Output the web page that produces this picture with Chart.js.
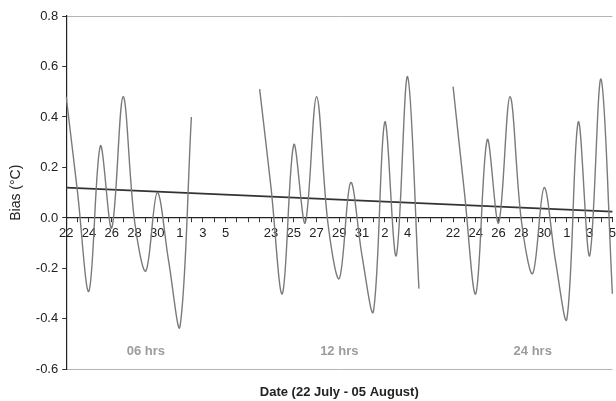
<!DOCTYPE html>
<html>
<head>
<meta charset="utf-8">
<script src="https://cdn.jsdelivr.net/npm/chart.js@4/dist/chart.umd.min.js"></script>
<style>
  html, body { margin: 0; padding: 0; background: #fff; }
  #wrap { width: 616px; height: 401px; overflow: hidden; }
  #box { width: 620px; height: 401px; }
</style>
</head>
<body>
<div id="wrap"><div id="box"><canvas id="chart"></canvas></div></div>
<script>
// days 22 July - 05 August, repeated for each forecast range
const dates = ["22", "23", "24", "25", "26", "27", "28", "29", "30", "31", "1", "2", "3", "4", "5"];
const gap = 2; // empty categories between the blocks
const segmentNames = ["06 hrs", "12 hrs", "24 hrs"];

// bias per day
const hrs06 = [0.48, 0.10, -0.29, 0.285, -0.04, 0.48, -0.01, -0.21, 0.10, -0.17, -0.43, 0.40];
const hrs12 = [0.51, 0.12, -0.30, 0.29, -0.02, 0.48, -0.02, -0.24, 0.14, -0.15, -0.37, 0.38, -0.15, 0.56, -0.28];
const hrs24 = [0.52, 0.10, -0.30, 0.31, -0.02, 0.48, -0.01, -0.22, 0.12, -0.17, -0.40, 0.38, -0.15, 0.55, -0.30];
const trendEnds = [0.12, 0.025];

const yTicks = [-0.6, -0.4, -0.2, 0.0, 0.2, 0.4, 0.6, 0.8];

const blank = Array(gap).fill("");
const labels = [...dates, ...blank, ...dates, ...blank, ...dates];
const step = dates.length + gap;

function pad(vals, start) {
  return labels.map((_, i) => (i >= start && i < start + vals.length) ? vals[i - start] : null);
}
const trend = labels.map((_, i) => i === 0 ? trendEnds[0] : (i === labels.length - 1 ? trendEnds[1] : null));

const FONT = "'Liberation Sans', Arial, sans-serif";
const lineStyle = { borderColor: "#7a7a7a", borderWidth: 1.4, pointRadius: 0, tension: 0.35, spanGaps: false, fill: false };

const segmentText = {
  id: "segmentText",
  afterDatasetsDraw(chart) {
    const { ctx, scales: { x, y } } = chart;
    ctx.save();
    ctx.font = "bold 13px " + FONT;
    ctx.fillStyle = "#9c9c9c";
    ctx.textAlign = "center";
    ctx.textBaseline = "middle";
    segmentNames.forEach((name, k) => {
      const px = x.getPixelForValue(k * step + (dates.length - 1) / 2);
      ctx.fillText(name, px, y.getPixelForValue(-0.53));
    });
    ctx.restore();
  }
};

new Chart(document.getElementById("chart"), {
  type: "line",
  data: {
    labels: labels,
    datasets: [
      { label: "06 hrs", data: pad(hrs06, 0), ...lineStyle },
      { label: "12 hrs", data: pad(hrs12, step), ...lineStyle },
      { label: "24 hrs", data: pad(hrs24, 2 * step), ...lineStyle },
      { label: "trend", data: trend, borderColor: "#333", borderWidth: 1.6, pointRadius: 0, spanGaps: true, tension: 0 }
    ]
  },
  options: {
    responsive: true,
    maintainAspectRatio: false,
    animation: false,
    layout: { padding: { left: 4, right: 2, top: 16, bottom: 0 } },
    plugins: {
      legend: { display: false },
      tooltip: { enabled: false },
      title: {
        display: true,
        position: "bottom",
        fullSize: false,
        text: "Date (22 July - 05 August)",
        color: "#222",
        font: { family: FONT, size: 13, weight: "bold" },
        padding: { top: 15, bottom: 1 }
      }
    },
    scales: {
      x: {
        type: "category",
        position: { y: 0 },
        offset: false,
        grid: { drawOnChartArea: false, drawTicks: true, tickLength: 4, tickColor: "#333" },
        border: { display: true, color: "#222", width: 1.2 },
        ticks: {
          autoSkip: false,
          maxRotation: 0,
          padding: 4,
          color: "#222",
          font: { family: FONT, size: 13 },
          callback: function (value, index) {
            return index % 2 === 0 ? this.getLabelForValue(value) : "";
          }
        }
      },
      y: {
        min: -0.6,
        max: 0.8,
        afterBuildTicks: (scale) => { scale.ticks = yTicks.map((v) => ({ value: v })); },
        grid: {
          color: (c) => (Math.abs(c.tick.value - 0.8) < 1e-6 || Math.abs(c.tick.value + 0.6) < 1e-6) ? "#b4b4b4" : "rgba(0,0,0,0)",
          tickColor: "#333",
          tickLength: 4
        },
        border: { display: true, color: "#222", width: 1.2 },
        ticks: {
          padding: 4,
          color: "#222",
          font: { family: FONT, size: 13 },
          callback: (v) => Number(v).toFixed(1)
        },
        title: {
          display: true,
          text: "Bias (°C)",
          color: "#222",
          font: { family: FONT, size: 14 },
          padding: { top: 4, bottom: 7 }
        }
      }
    }
  },
  plugins: [segmentText]
});
</script>
</body>
</html>
